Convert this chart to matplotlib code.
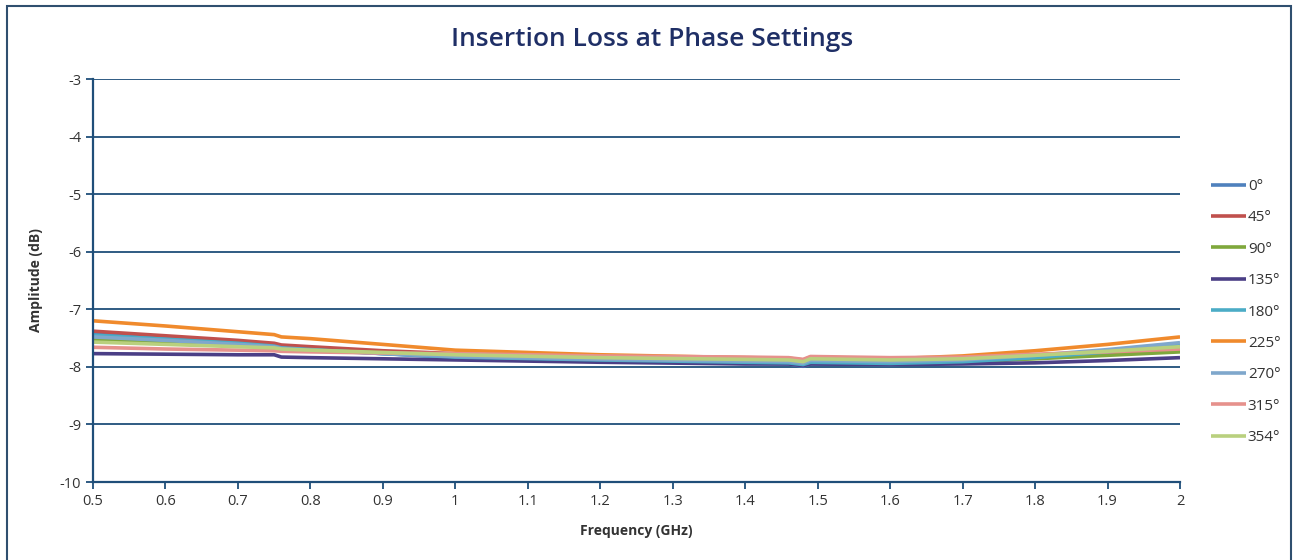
import matplotlib.pyplot as plt
from matplotlib.patches import Rectangle

# Frequenze (GHz) e perdita d'inserzione (dB) per ogni impostazione di fase
freq = [0.5, 0.6, 0.7, 0.75, 0.76, 0.8, 0.9, 1.0, 1.2, 1.4, 1.46, 1.48, 1.49, 1.6, 1.7, 1.8, 1.9, 2.0]

il_0 = [-7.42, -7.49, -7.57, -7.62, -7.66, -7.69, -7.77, -7.84, -7.90, -7.94, -7.95, -7.99, -7.95, -7.96, -7.93, -7.85, -7.74, -7.62]
il_45 = [-7.38, -7.46, -7.54, -7.59, -7.62, -7.65, -7.72, -7.77, -7.83, -7.87, -7.88, -7.92, -7.86, -7.88, -7.87, -7.82, -7.76, -7.71]
il_90 = [-7.53, -7.58, -7.63, -7.66, -7.69, -7.71, -7.76, -7.80, -7.85, -7.89, -7.90, -7.93, -7.89, -7.91, -7.90, -7.86, -7.80, -7.74]
il_135 = [-7.77, -7.78, -7.79, -7.79, -7.83, -7.84, -7.86, -7.88, -7.92, -7.95, -7.95, -7.98, -7.95, -7.96, -7.95, -7.93, -7.89, -7.84]
il_180 = [-7.45, -7.52, -7.59, -7.64, -7.67, -7.70, -7.77, -7.83, -7.88, -7.92, -7.93, -7.96, -7.92, -7.94, -7.91, -7.84, -7.74, -7.63]
il_225 = [-7.20, -7.29, -7.39, -7.44, -7.48, -7.51, -7.61, -7.71, -7.79, -7.84, -7.85, -7.88, -7.83, -7.86, -7.81, -7.72, -7.61, -7.48]
il_270 = [-7.48, -7.54, -7.61, -7.65, -7.68, -7.71, -7.77, -7.82, -7.87, -7.90, -7.91, -7.94, -7.89, -7.91, -7.88, -7.80, -7.70, -7.58]
il_315 = [-7.66, -7.69, -7.71, -7.72, -7.73, -7.74, -7.76, -7.77, -7.81, -7.83, -7.84, -7.87, -7.82, -7.84, -7.83, -7.78, -7.74, -7.69]
il_354 = [-7.57, -7.61, -7.65, -7.67, -7.69, -7.71, -7.75, -7.79, -7.84, -7.87, -7.88, -7.91, -7.86, -7.88, -7.86, -7.80, -7.73, -7.65]

series = [
    ("0°", il_0, "#4F81BD"),
    ("45°", il_45, "#C0504D"),
    ("90°", il_90, "#7FA83C"),
    ("135°", il_135, "#4B3F86"),
    ("180°", il_180, "#4BACC6"),
    ("225°", il_225, "#F08A2C"),
    ("270°", il_270, "#7FA7CC"),
    ("315°", il_315, "#E6918C"),
    ("354°", il_354, "#B9D07E"),
]

y_ticks = [-3, -4, -5, -6, -7, -8, -9, -10]
x_ticks = [0.5, 0.6, 0.7, 0.8, 0.9, 1, 1.1, 1.2, 1.3, 1.4, 1.5, 1.6, 1.7, 1.8, 1.9, 2]

blu = "#1F4E79"
plt.rcParams['font.family'] = ['Open Sans', 'DejaVu Sans']

fig = plt.figure(figsize=(12.99, 5.6), dpi=100)
ax = fig.add_axes([93 / 1299, 78 / 560, 1087 / 1299, 403 / 560])

for label, vals, col in series:
    ax.plot(freq, vals, color=col, lw=2.6, label=label, solid_capstyle='butt')

ax.set_xlim(0.5, 2)
ax.set_ylim(-10, -3)
ax.set_yticks(y_ticks)
ax.set_xticks(x_ticks)
ax.set_xticklabels([f"{v:g}" for v in x_ticks])
ax.set_yticklabels([f"{v}" for v in y_ticks])
ax.tick_params(axis='both', colors=blu, labelcolor='#333333', labelsize=10.5, length=5, width=1.3, direction='out')
ax.grid(True, axis='y', color=blu, lw=1.3)
ax.set_axisbelow(True)
for s in ['top', 'right']:
    ax.spines[s].set_visible(False)
for s in ['left', 'bottom']:
    ax.spines[s].set_color(blu)
    ax.spines[s].set_linewidth(1.6)

ax.set_xlabel("Frequency (GHz)", fontsize=10, fontweight='bold', color='#333333', labelpad=11)
ax.set_ylabel("Amplitude (dB)", fontsize=10, fontweight='bold', color='#333333', labelpad=12)
fig.text(652 / 1299, 1 - 40 / 560, "Insertion Loss at Phase Settings", ha='center', va='center',
         fontsize=19, fontweight='semibold', color='#1F2F66')

leg = ax.legend(loc='upper left', bbox_to_anchor=(1205 / 1299, 1 - 173 / 560), bbox_transform=fig.transFigure,
                frameon=False, fontsize=11, handlelength=2.3, handletextpad=0.1, labelspacing=1.07,
                borderaxespad=0)
for t in leg.get_texts():
    t.set_color('#333333')

# Cornice esterna del grafico
fig.patches.append(Rectangle((7 / 1299, -0.01), 1284 / 1299, 1 - 6 / 560 + 0.01, transform=fig.transFigure,
                             fill=False, edgecolor='#2F4F6F', lw=1.5))

fig.savefig("out.png", dpi=100)
plt.close()
